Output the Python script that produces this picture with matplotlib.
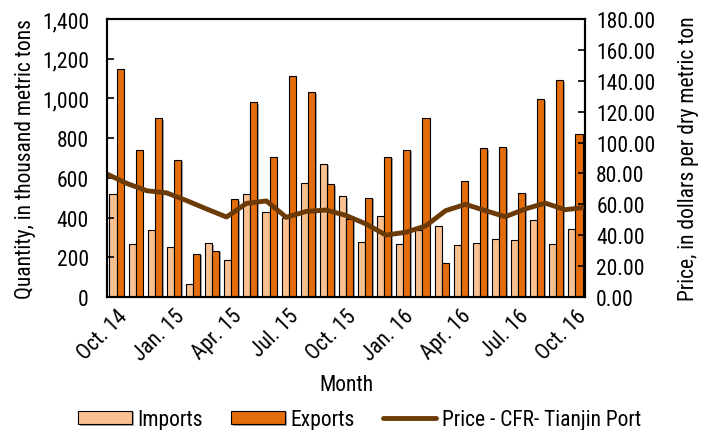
import matplotlib
matplotlib.use('Agg')
import matplotlib.pyplot as plt
import matplotlib.patheffects as pe
import matplotlib.transforms as mtransforms
from matplotlib import font_manager as fm
import numpy as np

months = ['Oct. 14', 'Nov. 14', 'Dec. 14', 'Jan. 15', 'Feb. 15', 'Mar. 15', 'Apr. 15',
          'May. 15', 'Jun. 15', 'Jul. 15', 'Aug. 15', 'Sep. 15', 'Oct. 15', 'Nov. 15',
          'Dec. 15', 'Jan. 16', 'Feb. 16', 'Mar. 16', 'Apr. 16', 'May. 16', 'Jun. 16',
          'Jul. 16', 'Aug. 16', 'Sep. 16', 'Oct. 16']
imports = [520, 267, 336, 252, 67, 270, 185, 519, 426, 400, 572, 671, 508, 279,
           408, 267, 336, 358, 261, 274, 292, 289, 386, 267, 344]
exports = [1150, 742, 901, 692, 218, 233, 492, 980, 707, 1111, 1031, 569, 395, 500,
           707, 742, 901, 170, 582, 750, 755, 525, 997, 1091, 823]
price = [79.6, 73.5, 68.8, 67.4, 62.4, 57.0, 51.8, 60.6, 62.2, 51.6, 55.4, 56.3,
         52.8, 47.3, 40.1, 41.9, 46.0, 55.9, 60.0, 55.9, 52.0, 57.0, 60.8, 56.5, 58.0]
tick_labels = months[::3]

IMP_COLOR = '#FAC090'
EXP_COLOR = '#E46C0A'
LINE_COLOR = '#6B3A07'


def pick_font():
    names = {f.name for f in fm.fontManager.ttflist}
    for name in ['Liberation Sans Narrow', 'Roboto Condensed', 'Open Sans Condensed',
                 'DejaVu Sans Condensed']:
        if name in names:
            return name, 15.5
    return 'Liberation Sans', 12.5


def main():
    family, size = pick_font()
    plt.rcParams['font.family'] = [family, 'DejaVu Sans']
    plt.rcParams['font.size'] = size

    fig = plt.figure(figsize=(7.04, 4.31), dpi=100)
    ax = fig.add_axes([0.152, 0.3086, 0.679, 0.645])

    x = np.arange(len(months))
    w = 0.37
    shadow = [pe.SimplePatchShadow(offset=(1.2, -1.2), shadow_rgbFace='gray', alpha=0.7), pe.Normal()]
    b1 = ax.bar(x - w / 2, imports, w, color=IMP_COLOR, edgecolor='black', linewidth=0.8,
                label='Imports')
    b2 = ax.bar(x + w / 2, exports, w, color=EXP_COLOR, edgecolor='black', linewidth=0.8,
                label='Exports')
    for p in list(b1) + list(b2):
        p.set_path_effects(shadow)

    ax.set_xlim(-0.5, len(months) - 0.5)
    ax.set_ylim(0, 1400)
    ax.set_yticks(range(0, 1401, 200))
    ax.set_yticklabels([f'{v:,}' for v in range(0, 1401, 200)])
    ax.set_xticks(x[::3])
    ax.set_xticklabels(tick_labels, rotation=45, ha='right', va='top', rotation_mode='anchor')
    shift = mtransforms.ScaledTranslation(6 / 72, 0, fig.dpi_scale_trans)
    for lab in ax.get_xticklabels():
        lab.set_transform(lab.get_transform() + shift)
    ax.tick_params(axis='x', length=0, pad=6)
    ax.tick_params(axis='y', direction='in', length=5, width=1.2, pad=13)
    for s in ax.spines.values():
        s.set_linewidth(1.5)
    ax.set_xlabel('Month', labelpad=7)
    ax.set_ylabel('Quantity, in thousand metric tons', labelpad=4)

    ax2 = ax.twinx()
    xl = np.linspace(-0.5, len(months) - 0.5, len(price))
    ln, = ax2.plot(xl, price, color=LINE_COLOR, linewidth=3.5, solid_capstyle='round',
                   label='Price - CFR- Tianjin Port')
    ax2.set_ylim(0, 180)
    ax2.set_yticks(range(0, 181, 20))
    ax2.set_yticklabels([f'{v:.2f}' for v in range(0, 181, 20)])
    ax2.tick_params(axis='y', direction='in', length=5, width=1.2, pad=8)
    ax2.set_ylabel('Price, in dollars per dry metric ton', labelpad=16)
    for s in ax2.spines.values():
        s.set_linewidth(1.5)

    fig.legend([b1, b2, ln], ['Imports', 'Exports', 'Price - CFR- Tianjin Port'],
               loc='lower center', bbox_to_anchor=(0.511, -0.045), ncol=3, frameon=False,
               handlelength=2.5, handleheight=0.6, columnspacing=1.3, handletextpad=0.25)

    fig.savefig('out.png', dpi=100)


if __name__ == '__main__':
    main()
